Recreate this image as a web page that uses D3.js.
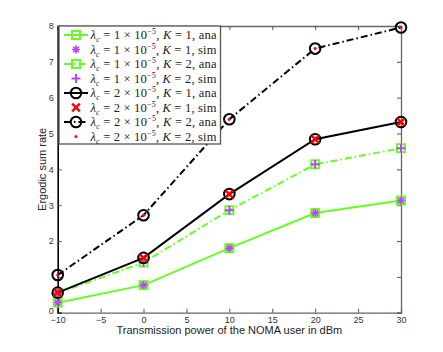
<!DOCTYPE html>
<html><head><meta charset="utf-8">
<script src="https://cdn.jsdelivr.net/npm/d3@7"></script>
<style>body{margin:0;background:#fff}svg{display:block}</style>
</head><body>
<svg id="c" width="443" height="352"></svg>
<script>
const xValues = [-10, 0, 10, 20, 30];
const anaL1K1 = [0.28, 0.77, 1.80, 2.78, 3.13];
const simL1K1 = [0.28, 0.77, 1.80, 2.78, 3.13];
const anaL1K2 = [0.55, 1.40, 2.86, 4.14, 4.59];
const simL1K2 = [0.55, 1.40, 2.86, 4.14, 4.59];
const anaL2K1 = [0.56, 1.53, 3.31, 4.84, 5.32];
const simL2K1 = [0.56, 1.53, 3.31, 4.84, 5.32];
const anaL2K2 = [1.05, 2.72, 5.40, 7.37, 7.96];
const simL2K2 = [1.05, 2.72, 5.40, 7.37, 7.96];
const xTicks = [-10, -5, 0, 5, 10, 15, 20, 25, 30];
const yTicks = [0, 1, 2, 3, 4, 5, 6, 7, 8];
const yTickLabels = ["0", "", "2", "3", "4", "5", "6", "7", "8"];
const legendLambda = ["1", "1", "1", "1", "2", "2", "2", "2"];
const legendK = ["1", "1", "2", "2", "1", "1", "2", "2"];
const legendKind = ["ana", "sim", "ana", "sim", "ana", "sim", "ana", "sim"];
const xLabel = "Transmission power of the NOMA user in dBm";
const yLabel = "Ergodic sum rate";

const GREEN = "#66ff22", PURPLE = "#bb44ff", RED = "#ff0000";
const svg = d3.select("#c");
const L = 57.7, R = 401, T = 26, B = 312.7;
const x = d3.scaleLinear().domain([-10, 30]).range([L, R]);
const y = d3.scaleLinear().domain([0, 8]).range([B, T]);

// axes
const tickFont = "Liberation Sans, Arial, sans-serif";
const gx = svg.append("g").attr("transform", `translate(0,${B})`)
  .call(d3.axisBottom(x).tickValues(xTicks).tickSize(-4).tickPadding(4)
    .tickFormat(d => d < 0 ? "\u2212" + Math.abs(d) : d));
const gxt = svg.append("g").attr("transform", `translate(0,${T})`)
  .call(d3.axisTop(x).tickValues(xTicks).tickSize(-4).tickFormat(""));
const gy = svg.append("g").attr("transform", `translate(${L},0)`)
  .call(d3.axisLeft(y).tickValues(yTicks).tickSize(-4).tickPadding(4)
    .tickFormat((d, i) => yTickLabels[i]));
const gyr = svg.append("g").attr("transform", `translate(${R},0)`)
  .call(d3.axisRight(y).tickValues(yTicks).tickSize(-4).tickFormat(""));
[gx, gxt, gy, gyr].forEach(g => {
  g.selectAll("text").attr("font-family", tickFont).attr("font-size", 9).attr("fill", "#333");
  g.selectAll(".tick line").attr("stroke", "#555");
  g.select(".domain").attr("stroke", "#666").attr("stroke-width", 1.3);
});
gy.select(".domain").attr("stroke", "#000").attr("stroke-width", 1.6);
gy.selectAll(".tick").filter(d => d === 0).select("text").attr("dy", "0.05em");

svg.append("text").attr("x", (L + R) / 2).attr("y", 334).attr("text-anchor", "middle")
  .attr("font-family", tickFont).attr("font-size", 11).attr("fill", "#222").text(xLabel);
svg.append("text").attr("transform", `translate(45.5,${(T + B) / 2}) rotate(-90)`)
  .attr("text-anchor", "middle").attr("font-family", tickFont).attr("font-size", 11)
  .attr("fill", "#222").text(yLabel);

const DASHDOT = "7,3,1.5,3";
const line = d3.line().x((d, i) => x(xValues[i])).y(d => y(d));

function drawMarker(g, type, cx, cy) {
  if (type === "square") {
    g.append("rect").attr("x", cx - 4).attr("y", cy - 4).attr("width", 8).attr("height", 8)
      .attr("fill", "none").attr("stroke", GREEN).attr("stroke-width", 2);
  } else if (type === "star") {
    const s = 4;
    const p = `M${cx - s},${cy}L${cx + s},${cy}M${cx},${cy - s}L${cx},${cy + s}` +
      `M${cx - s * .7},${cy - s * .7}L${cx + s * .7},${cy + s * .7}M${cx - s * .7},${cy + s * .7}L${cx + s * .7},${cy - s * .7}`;
    g.append("path").attr("d", p).attr("stroke", PURPLE).attr("stroke-width", 1.6).attr("fill", "none");
  } else if (type === "plus") {
    const s = 4.5;
    g.append("path").attr("d", `M${cx - s},${cy}L${cx + s},${cy}M${cx},${cy - s}L${cx},${cy + s}`)
      .attr("stroke", PURPLE).attr("stroke-width", 2).attr("fill", "none");
  } else if (type === "circle") {
    g.append("circle").attr("cx", cx).attr("cy", cy).attr("r", 5.3)
      .attr("fill", "none").attr("stroke", "#000").attr("stroke-width", 2);
  } else if (type === "x") {
    const s = 3.8;
    g.append("path").attr("d", `M${cx - s},${cy - s}L${cx + s},${cy + s}M${cx - s},${cy + s}L${cx + s},${cy - s}`)
      .attr("stroke", RED).attr("stroke-width", 2.4).attr("fill", "none");
  } else if (type === "dot") {
    g.append("circle").attr("cx", cx).attr("cy", cy).attr("r", 1.5).attr("fill", RED);
  }
}

const series = [
  { data: anaL1K1, color: GREEN, dash: null, marker: "square", line: true },
  { data: simL1K1, marker: "star", line: false },
  { data: anaL1K2, color: GREEN, dash: DASHDOT, marker: "square", line: true },
  { data: simL1K2, marker: "plus", line: false },
  { data: anaL2K1, color: "#000", dash: null, marker: "circle", line: true },
  { data: simL2K1, marker: "x", line: false },
  { data: anaL2K2, color: "#000", dash: DASHDOT, marker: "circle", line: true },
  { data: simL2K2, marker: "dot", line: false }
];
const plot = svg.append("g");
series.forEach(s => {
  const g = plot.append("g");
  if (s.line) {
    g.append("path").attr("d", line(s.data)).attr("fill", "none").attr("stroke", s.color)
      .attr("stroke-width", 2).attr("stroke-dasharray", s.dash);
  }
  s.data.forEach((v, i) => drawMarker(g, s.marker, x(xValues[i]), y(v)));
});

// legend
const lg = svg.append("g");
const LX = 59, LY = T, LW = 161.5, LH = 118;
lg.append("rect").attr("x", LX).attr("y", LY).attr("width", LW).attr("height", LH)
  .attr("fill", "#fff").attr("stroke", "#555").attr("stroke-width", 1.3);
const serif = "Liberation Serif, Times New Roman, serif";
series.forEach((s, i) => {
  const cy = 35 + i * 14.5;
  if (s.line) {
    lg.append("line").attr("x1", 64).attr("x2", 88).attr("y1", cy).attr("y2", cy)
      .attr("stroke", s.color).attr("stroke-width", 2).attr("stroke-dasharray", s.dash);
  }
  drawMarker(lg, s.marker, 76, cy);
  const t = lg.append("text").attr("x", 90.5).attr("y", cy + 4).attr("font-family", serif)
    .attr("font-size", 12.5).attr("fill", "#222");
  t.append("tspan").attr("font-style", "italic").text("\u03bb");
  t.append("tspan").attr("font-style", "italic").attr("font-size", 8).attr("dy", 3).text("c");
  t.append("tspan").attr("dy", -3).text(` = ${legendLambda[i]} \u00d7 10`);
  t.append("tspan").attr("font-size", 8).attr("dy", -5).text("\u22125");
  t.append("tspan").attr("dy", 5).text(", ");
  t.append("tspan").attr("font-style", "italic").text("K");
  t.append("tspan").text(` = ${legendK[i]}, ${legendKind[i]}`);
  const w = t.node().getComputedTextLength();
  if (w > 0) t.attr("textLength", 126).attr("lengthAdjust", "spacing");
});
</script>
</body></html>
